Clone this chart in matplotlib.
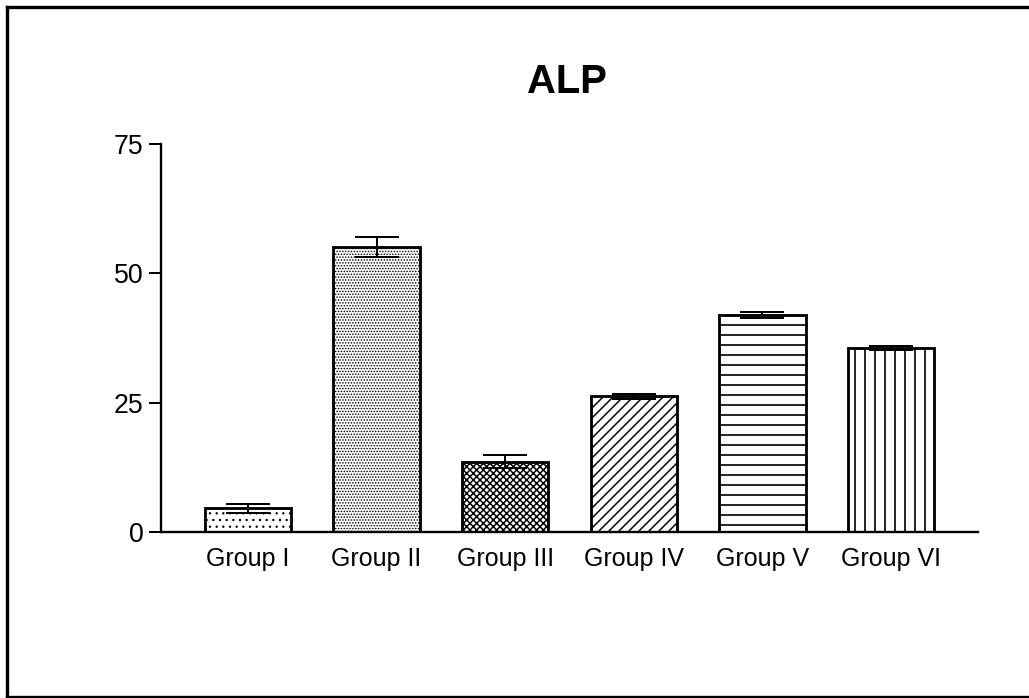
import matplotlib
matplotlib.use("Agg")
import matplotlib.pyplot as plt
from matplotlib.lines import Line2D

# ALP values per group (mean +/- SEM)
groups = ["Group I", "Group II", "Group III", "Group IV", "Group V", "Group VI"]
alp_mean = [4.6, 55.1, 13.6, 26.2, 41.9, 35.6]
alp_err = [0.85, 1.9, 1.3, 0.45, 0.55, 0.45]
hatches = ["...", ".......", "xxxxxx", "////", "--", "||"]
hatch_lw = [0.6, 0.6, 0.9, 0.9, 1.0, 1.0]
y_ticks = [0, 25, 50, 75]

DPI = 120
plt.rcParams["font.family"] = ["Liberation Sans", "DejaVu Sans"]
plt.rcParams["hatch.linewidth"] = 1.0
plt.rcParams["hatch.color"] = "black"

fig = plt.figure(figsize=(1029 / DPI, 698 / DPI), dpi=DPI)
ax = fig.add_axes([0.1565, 0.2378, 0.9504 - 0.1565, 0.7937 - 0.2378])

x = list(range(len(groups)))
bars = ax.bar(x, alp_mean, width=0.67, color="white", edgecolor="black",
              linewidth=1.7, zorder=2)
for bar, h, lw in zip(bars, hatches, hatch_lw):
    bar.set_hatch(h)
    if hasattr(bar, "set_hatch_linewidth"):
        bar.set_hatch_linewidth(lw)

ax.errorbar(x, alp_mean, yerr=alp_err, fmt="none", ecolor="black",
            elinewidth=1.2, capsize=13, capthick=1.2, zorder=3)

ax.set_xlim(-0.675, len(groups) - 1 + 0.675)
ax.set_ylim(0, 75)
ax.set_yticks(y_ticks)
ax.set_xticks(x)
ax.set_xticklabels(groups, fontsize=15)
ax.tick_params(axis="x", length=0, pad=9)
ax.tick_params(axis="y", length=7, width=1.2, pad=3.5, labelsize=16)

for side in ("top", "right"):
    ax.spines[side].set_visible(False)
for side in ("left", "bottom"):
    ax.spines[side].set_linewidth(1.4)

fig.text(0.551, 1 - 93 / 698, "ALP", ha="center", va="baseline",
         fontsize=24, fontweight="bold")

# outer frame: left, top and bottom edges only (right edge runs off the image)
fx0, fy0, fy1 = 7 / 1029, 1 - 6.5 / 698, 1 - 697 / 698
frame_kw = dict(color="black", linewidth=2.0, transform=fig.transFigure)
fig.add_artist(Line2D([fx0, fx0], [fy1, fy0], **frame_kw))
fig.add_artist(Line2D([fx0, 1.01], [fy0, fy0], **frame_kw))
fig.add_artist(Line2D([fx0, 1.01], [fy1, fy1], **frame_kw))

fig.savefig("out.png", dpi=DPI)
